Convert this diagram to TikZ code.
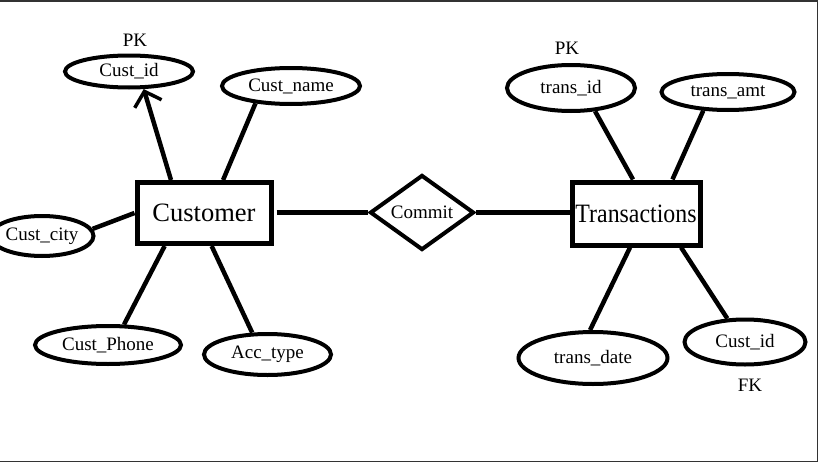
\documentclass[tikz,border=0pt]{standalone}
\usepackage{fontspec}
\setmainfont{Liberation Serif}
\usetikzlibrary{shapes.geometric,arrows.meta}
\tikzset{
  attr/.style={ellipse,draw,line width=4pt,inner sep=0pt,font=\fontsize{19}{22}\selectfont},
  entity/.style={rectangle,draw,line width=5pt,inner sep=0pt,font=\fontsize{26.5}{30}\selectfont},
  rel/.style={diamond,draw,line width=4pt,inner sep=0pt,font=\fontsize{19}{22}\selectfont},
  conn/.style={line width=4.5pt},
  keylab/.style={inner sep=0pt,font=\fontsize{19}{22}\selectfont},
  frame/.style={line width=1.5pt,draw=black!80},
}
\begin{document}
\begin{tikzpicture}[x=1pt,y=-1pt]
\useasboundingbox (0,0) rectangle (820,463);
\draw[frame] (0,0.75) -- (817.5,0.75) -- (817.5,461.5) -- (0,461.5);
% entities
\node[entity,minimum width=134pt,minimum height=61pt] (cust) at (204,213) {Customer};
\node[entity,minimum width=128pt,minimum height=63pt] (trans) at (636,213.5) {\scalebox{0.9}[1]{Transactions}};
\node[rel,minimum width=104pt,minimum height=66pt] (commit) at (422,212.5) {Commit};
% customer attributes
\node[attr,minimum width=128pt,minimum height=32pt] (cid) at (129,71.5) {Cust\_id};
\node[attr,minimum width=138pt,minimum height=36pt] (cname) at (291,86) {Cust\_name};
\node[attr,minimum width=100pt,minimum height=40pt] (ccity) at (42,236) {Cust\_city};
\node[attr,minimum width=146pt,minimum height=38pt] (cphone) at (108,345) {Cust\_Phone};
\node[attr,minimum width=127pt,minimum height=41pt] (acc) at (267.5,354.5) {Acc\_type};
% transaction attributes
\node[attr,minimum width=128pt,minimum height=46pt] (tid) at (571,88) {trans\_id};
\node[attr,minimum width=133pt,minimum height=36pt] (tamt) at (728,92) {trans\_amt};
\node[attr,minimum width=149pt,minimum height=52pt] (tdate) at (593,358) {trans\_date};
\node[attr,minimum width=121pt,minimum height=45pt] (fk) at (745,342) {Cust\_id};
% key labels
\node[keylab] (pk1) at (135,40) {PK};
\node[keylab] (pk2) at (567,48) {PK};
\node[keylab] (fkl) at (750,385) {FK};
% connectors
\draw[conn,shorten <=3pt] (cust.east |- commit.west) -- (commit.west);
\draw[conn] (commit.east) -- (commit.east -| trans.west);
\draw[conn,-{Straight Barb[length=13pt,width=28pt,line width=3.5pt]}] (cust.135) -- (cid.310);
\draw[conn] (cust.60.6) -- (cname.206);
\draw[conn] (cust.180) -- (ccity.8);
\draw[conn] (cust.220) -- (cphone.52);
\draw[conn] (cust.283.6) -- (acc.125.5);
\draw[conn] (trans.95) -- (tid.316);
\draw[conn] (trans.43) -- (tamt.217.6);
\draw[conn] (trans.260) -- (tdate.96);
\draw[conn] (trans.323.5) -- (fk.127);
\end{tikzpicture}
\end{document}
